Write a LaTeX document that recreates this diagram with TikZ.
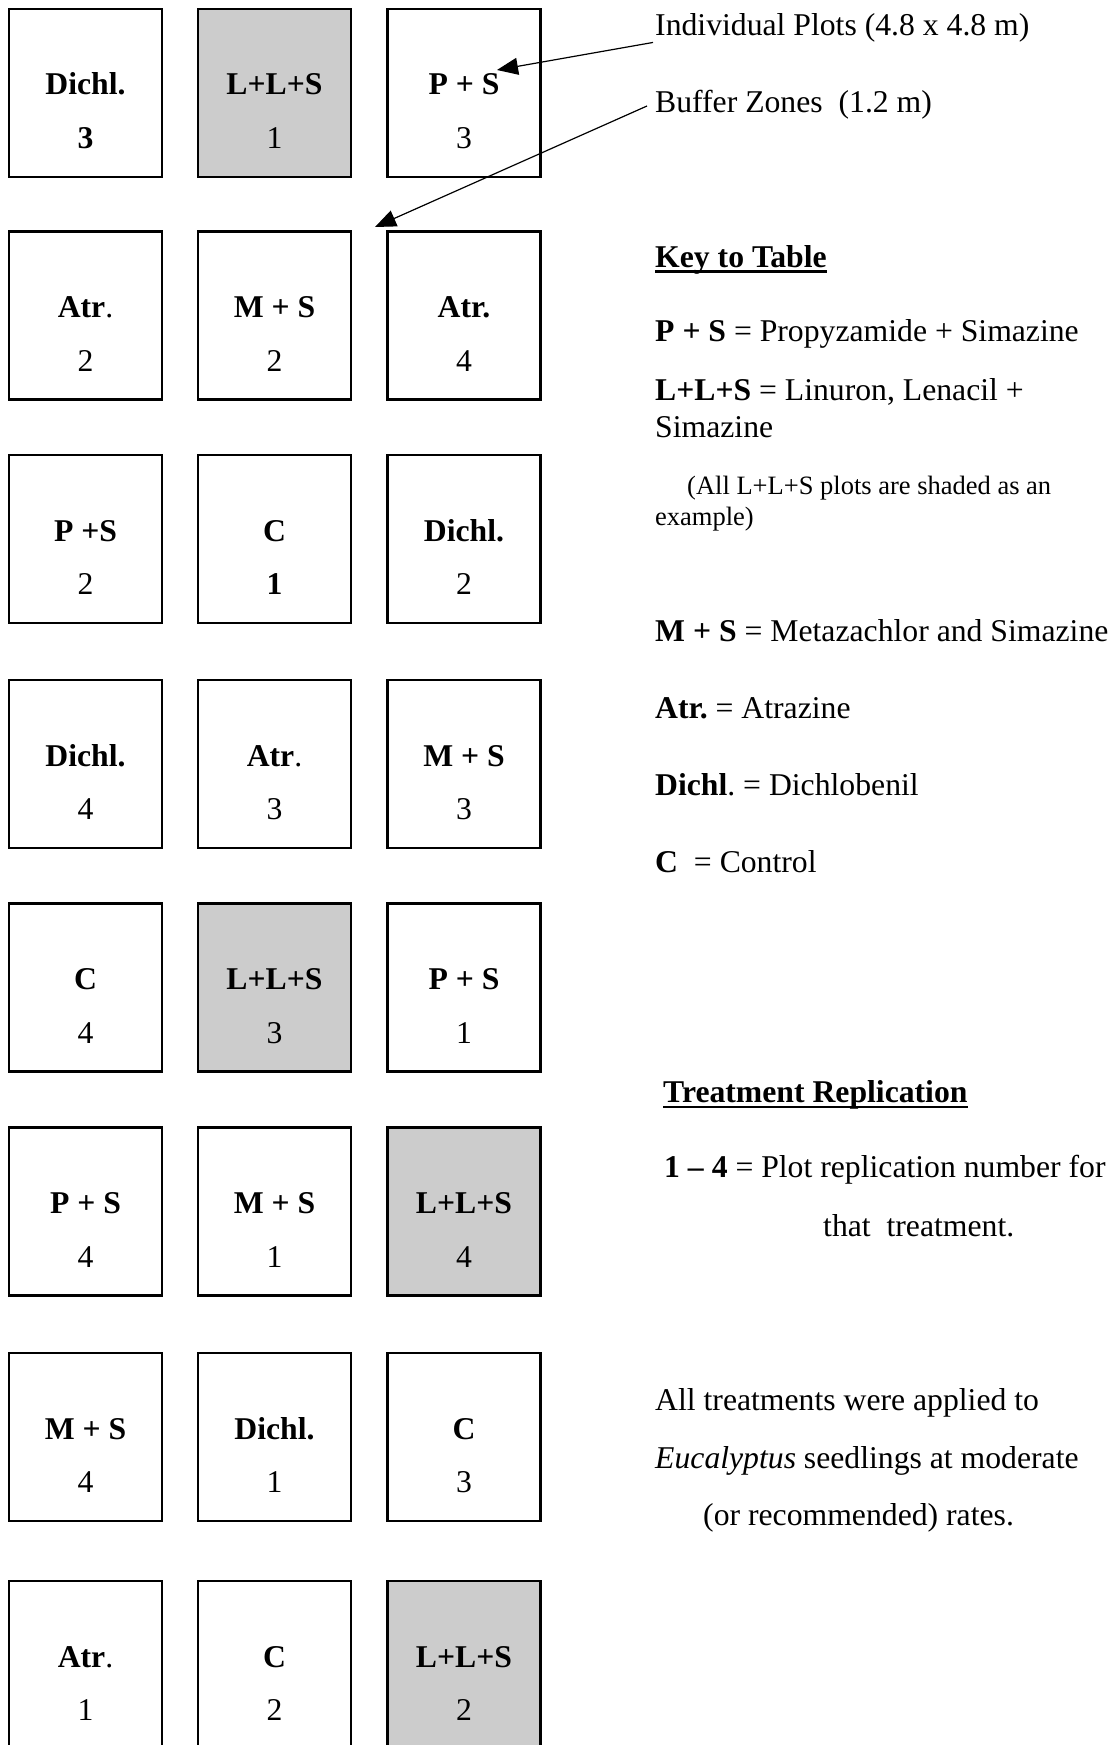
\documentclass[tikz,border=0pt]{standalone}
\usepackage{fontspec}
\setmainfont{Liberation Serif}
\usepackage{xcolor}
\usetikzlibrary{arrows.meta,positioning}
\colorlet{shade}{black!20}
\frenchspacing
\newcommand{\bigtxt}{\fontsize{31.7}{38}\selectfont}
\newcommand{\smalltxt}{\fontsize{26.5}{32}\selectfont}

\begin{document}
\begin{tikzpicture}[x=1pt, y=-1pt,
  plotbox/.style={draw, line width=2.6pt, fill=#1, minimum width=153pt,
    minimum height=168pt, inner sep=0pt, outer sep=0pt, anchor=north},
  plotbox/.default=white,
  trt/.style={font=\bigtxt\bfseries, anchor=base, inner sep=0pt},
  rep/.style={font=\bigtxt, anchor=base, inner sep=0pt},
  key/.style={font=\bigtxt, anchor=base west, inner sep=0pt},
  head/.style={key, font=\bigtxt\bfseries},
  uline/.style={line width=2.4pt},
  arrow/.style={-{Triangle[length=21pt, width=17pt]}, line width=1.2pt}
]
  \useasboundingbox (0,0) rectangle (1115,1745);

  % Field layout: 8 rows x 3 plots
  \foreach \nm/\x/\y/\trtm/\num/\clr in {
    p11/85.5/9/Dichl./\textbf{3}/white,
    p12/274.5/9/L+L+S/1/shade,
    p13/464/9/P + S/3/white,
    p21/85.5/231.5/Atr\textmd{.}/2/white,
    p22/274.5/231.5/M + S/2/white,
    p23/464/231.5/Atr./4/white,
    p31/85.5/455/P +S/2/white,
    p32/274.5/455/C/\textbf{1}/white,
    p33/464/455/Dichl./2/white,
    p41/85.5/680/Dichl./4/white,
    p42/274.5/680/Atr\textmd{.}/3/white,
    p43/464/680/M + S/3/white,
    p51/85.5/903.5/C/4/white,
    p52/274.5/903.5/L+L+S/3/shade,
    p53/464/903.5/P + S/1/white,
    p61/85.5/1127.5/P + S/4/white,
    p62/274.5/1127.5/M + S/1/white,
    p63/464/1127.5/L+L+S/4/shade,
    p71/85.5/1353/M + S/4/white,
    p72/274.5/1353/Dichl./1/white,
    p73/464/1353/C/3/white,
    p81/85.5/1581/Atr\textmd{.}/1/white,
    p82/274.5/1581/C/2/white,
    p83/464/1581/L+L+S/2/shade} {
    \node[plotbox=\clr] (\nm) at (\x,\y) {};
    \node[trt] (\nm-t) at ([yshift=-86pt]\nm.north) {\trtm};
    \node[rep] (\nm-n) at ([yshift=-139.5pt]\nm.north) {\num};
  }

  % Plot and buffer notes
  \node[key] (ind) at (655,35.5) {Individual Plots (4.8 x 4.8 m)};
  \node[key] (buf) at (655,112) {Buffer Zones\ \ (1.2 m)};
  \coordinate (indtip) at (497,70);
  \coordinate (buftip) at ([xshift=-12.5pt, yshift=4.5pt]p23.north west);
  \draw[arrow] ([xshift=-2pt]ind.south west) -- (indtip);
  \draw[arrow] ([xshift=-8pt, yshift=6pt]buf.base west) -- (buftip);

  % Key to table
  \node[head] (keyhd) at (655,267.5) {Key to Table};
  \draw[uline] ([yshift=-4pt]keyhd.base west) -- ([yshift=-4pt]keyhd.base east);
  \node[key] (kps) at (655,341.5) {\textbf{P + S} = Propyzamide + Simazine};
  \node[key] (kll) at (655,400) {\textbf{L+L+S} = Linuron, Lenacil +};
  \node[key] (kll2) at (655,437) {Simazine};
  \node[key, font=\smalltxt] (kex) at (687,494) {(All L+L+S plots are shaded as an};
  \node[key, font=\smalltxt] (kex2) at (655,525) {example)};
  \node[key] (kms) at (655,641.5) {\textbf{M + S} = Metazachlor and Simazine};
  \node[key] (kat) at (655,718.5) {\textbf{Atr.} = Atrazine};
  \node[key] (kdi) at (655,795) {\textbf{Dichl}. = Dichlobenil};
  \node[key] (kc) at (655,872.5) {\textbf{C}\ \ = Control};

  % Replication
  \node[head] (trhd) at (663,1102.5) {Treatment Replication};
  \draw[uline] ([yshift=-4.5pt]trhd.base west) -- ([yshift=-4.5pt]trhd.base east);
  \node[key] (krep) at (664,1177) {\textbf{1 -- 4} = Plot replication number for};
  \node[key] (krep2) at (823,1236) {that\ \ treatment.};

  \node[key] (nt1) at (655,1410.5) {All treatments were applied to};
  \node[key] (nt2) at (655,1468) {\emph{Eucalyptus} seedlings at moderate};
  \node[key] (nt3) at (703,1525.5) {(or recommended) rates.};
\end{tikzpicture}
\end{document}
